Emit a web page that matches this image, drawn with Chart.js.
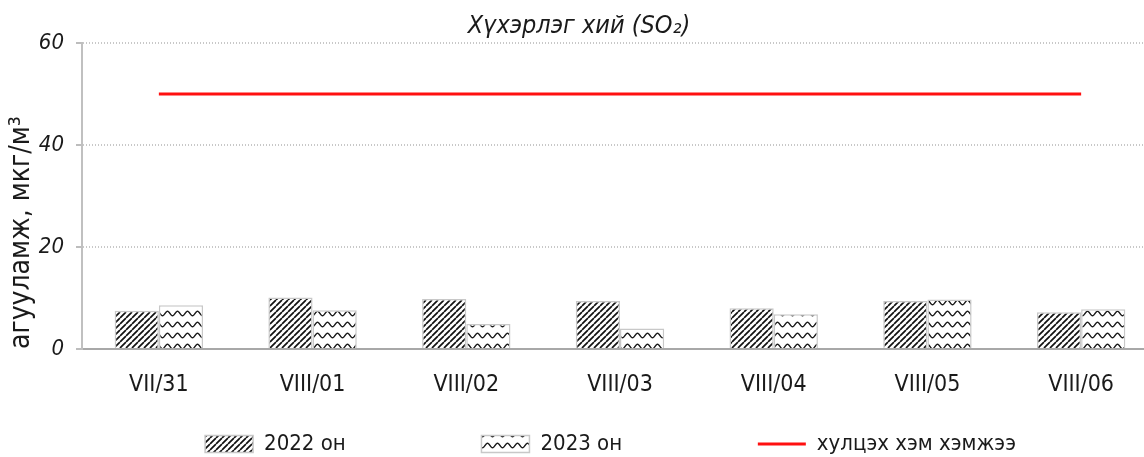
<!DOCTYPE html>
<html>
<head>
<meta charset="utf-8">
<script src="https://cdn.jsdelivr.net/npm/chart.js@4.4.0/dist/chart.umd.min.js"></script>
<style>
  html, body { margin: 0; padding: 0; background: #fff; overflow: hidden; }
</style>
</head>
<body>
<canvas id="myChart" width="1158" height="465"></canvas>
<script>
const categories = ['VII/31', 'VIII/01', 'VIII/02', 'VIII/03', 'VIII/04', 'VIII/05', 'VIII/06'];
const values2022 = [7.5, 10.1, 9.8, 9.4, 8.0, 9.4, 7.2];
const values2023 = [8.6, 7.6, 4.9, 4.0, 6.8, 9.7, 7.8];
const limitValues = [50, 50, 50, 50, 50, 50, 50];
const yTicks = [0, 20, 40, 60];
const seriesNames = ['2022 он', '2023 он', 'хулцэх хэм хэмжээ'];

const FONT = "'Liberation Sans Narrow', 'Arial Narrow', 'DejaVu Sans Condensed', 'Liberation Sans', sans-serif";
const TEXT = '#1a1a1a';

// diagonal hatch "////"
function makeHatch() {
    const s = 6;
    const c = document.createElement('canvas');
    c.width = s; c.height = s;
    const g = c.getContext('2d');
    g.fillStyle = '#fff';
    g.fillRect(0, 0, s, s);
    g.strokeStyle = '#111';
    g.lineWidth = 1.7;
    g.beginPath();
    for (let k = -1; k <= 1; k++) {
        g.moveTo(k * s, s);
        g.lineTo(k * s + s, 0);
    }
    g.stroke();
    return g.createPattern(c, 'repeat');
}

// wavy lines
function makeWave() {
    const w = 10, h = 11;
    const c = document.createElement('canvas');
    c.width = w; c.height = h;
    const g = c.getContext('2d');
    g.fillStyle = '#fff';
    g.fillRect(0, 0, w, h);
    g.strokeStyle = '#1a1a1a';
    g.lineWidth = 1.4;
    g.beginPath();
    for (let x = -1; x <= w + 1; x += 0.5) {
        const y = 5.5 + 2.2 * Math.sin(2 * Math.PI * x / w);
        if (x === -1) g.moveTo(x, y); else g.lineTo(x, y);
    }
    g.stroke();
    return g.createPattern(c, 'repeat');
}

const hatch = makeHatch();
const wave = makeWave();
const GAP = ' '.repeat(20);
const TAIL = ' '.repeat(3);

const ctx = document.getElementById('myChart').getContext('2d');

let myChart = new Chart(ctx, {
    type: 'bar',
    data: {
        labels: categories,
        datasets: [{
            label: seriesNames[0],
            data: values2022,
            backgroundColor: hatch,
            borderColor: '#c8c8c8',
            borderWidth: 1.5
        }, {
            label: seriesNames[1],
            data: values2023,
            backgroundColor: wave,
            borderColor: '#c8c8c8',
            borderWidth: 1.5
        }, {
            type: 'line',
            label: seriesNames[2],
            data: limitValues,
            borderColor: '#ff1010',
            backgroundColor: '#ff1010',
            borderWidth: 3,
            pointRadius: 0
        }]
    },
    options: {
        responsive: false,
        animation: false,
        datasets: {
            bar: { barPercentage: 1, categoryPercentage: 0.575 }
        },
        layout: { padding: 0 },
        plugins: {
            title: {
                display: true,
                text: 'Хүхэрлэг хий (SO₂)',
                color: TEXT,
                font: { family: FONT, size: 25, style: 'italic', weight: 'normal' },
                padding: { top: 11, bottom: 2 }
            },
            legend: {
                position: 'bottom',
                fullSize: false,
                labels: {
                    color: TEXT,
                    font: { family: FONT, size: 22 },
                    usePointStyle: true,
                    pointStyleWidth: 48,
                    boxHeight: 17,
                    padding: 10,
                    generateLabels: (chart) => {
                        const items = Chart.defaults.plugins.legend.labels.generateLabels(chart);
                        return items.map((it) => {
                            if (it.datasetIndex < 2) {
                                it.pointStyle = 'rect';
                                it.text = it.text + GAP;
                                it.strokeStyle = '#c8c8c8';
                                it.lineWidth = 1.5;
                            } else {
                                it.pointStyle = 'line';
                                it.text = it.text + TAIL;
                                it.strokeStyle = '#ff1010';
                                it.lineWidth = 3;
                            }
                            return it;
                        });
                    }
                }
            },
            tooltip: { enabled: false }
        },
        scales: {
            x: {
                grid: { display: false, drawTicks: false },
                border: { color: '#a8a8a8', width: 2 },
                ticks: {
                    color: TEXT,
                    font: { family: FONT, size: 23 },
                    padding: 22,
                    maxRotation: 0
                },
                afterFit: (scale) => { scale.height = 74; }
            },
            y: {
                min: 0,
                max: 60,
                afterBuildTicks: (scale) => { scale.ticks = yTicks.map(v => ({ value: v })); },
                grid: {
                    color: '#c8c8c8',
                    lineWidth: 2,
                    tickLength: 6,
                    tickColor: '#bdbdbd',
                    tickWidth: 2
                },
                border: { color: '#c0c0c0', width: 2, dash: [1, 2] },
                ticks: {
                    color: TEXT,
                    font: { family: FONT, size: 22, style: 'italic' },
                    padding: 12
                },
                title: {
                    display: true,
                    text: 'агууламж, мкг/м³',
                    align: 'start',
                    color: TEXT,
                    font: { family: FONT, size: 28 },
                    padding: { top: 5, bottom: 0 }
                },
                afterFit: (scale) => { scale.width = 82; }
            }
        }
    }
});
</script>
</body>
</html>
